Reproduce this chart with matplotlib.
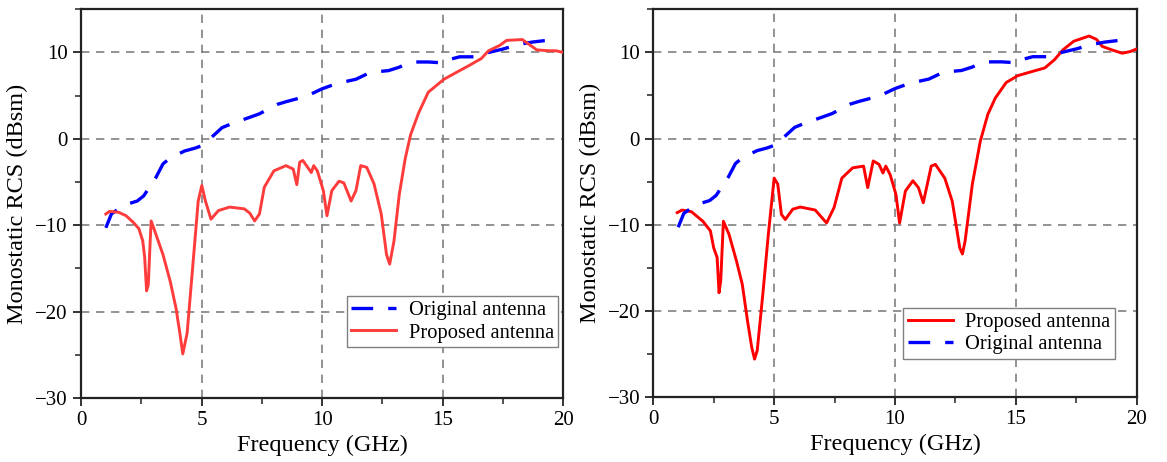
import matplotlib
matplotlib.use("Agg")
import matplotlib.pyplot as plt
from matplotlib.ticker import MultipleLocator

# ---------------- data ----------------
orig_f = [1.03, 1.26, 1.6, 1.87, 2.33, 2.6, 2.79, 3.1, 3.4, 3.7, 4.0, 4.3, 4.7, 5.0, 5.2, 5.4,
          5.85, 6.2, 6.6, 7.0, 7.4, 7.8, 8.15, 8.5, 8.9, 9.4, 10.0, 10.4, 10.75, 11.4, 12.0,
          12.75, 13.2, 13.5, 13.8, 14.4, 15.0, 15.3, 15.7, 16.3, 16.9, 17.5, 18.1, 18.7,
          19.3, 19.75]
orig_rcs = [-10.3, -8.7, -8.0, -7.6, -7.2, -6.6, -5.8, -4.5, -2.9, -2.2, -1.8, -1.4, -1.1, -0.8,
            -0.4, 0.15, 1.3, 1.7, 2.1, 2.5, 2.9, 3.5, 4.0, 4.3, 4.6, 5.0, 5.8, 6.2, 6.5, 6.9,
            7.7, 7.9, 8.3, 8.7, 8.9, 8.9, 8.8, 9.2, 9.5, 9.5, 10.0, 10.4, 10.9, 11.2, 11.4, 11.8]

prop1_f = [1.03, 1.18, 1.56, 1.87, 2.18, 2.4, 2.56, 2.64, 2.72, 2.79, 2.87, 2.91, 3.1, 3.4, 3.7,
           3.94, 4.1, 4.22, 4.4, 4.63, 4.86, 5.01, 5.16, 5.39, 5.7, 6.16, 6.77, 7.0, 7.2, 7.4,
           7.6, 8.0, 8.5, 8.8, 8.95, 9.07, 9.2, 9.55, 9.65, 9.8, 10.05, 10.2, 10.4, 10.7, 10.9,
           11.2, 11.4, 11.6, 11.85, 12.15, 12.45, 12.67, 12.8, 12.98, 13.2, 13.45, 13.67, 14.0,
           14.4, 15.05, 15.7, 16.1, 16.6, 16.9, 17.35, 17.65, 18.3, 18.6, 18.9, 19.4, 19.7, 20.0]
prop1_rcs = [-8.7, -8.4, -8.5, -8.9, -9.7, -10.4, -11.8, -13.7, -17.6, -16.9, -11.8, -9.5, -11.0,
             -13.4, -16.5, -19.6, -22.5, -24.9, -22.5, -14.9, -7.2, -5.4, -7.2, -9.3, -8.3, -7.9,
             -8.1, -8.6, -9.5, -8.7, -5.6, -3.7, -3.1, -3.5, -5.3, -2.7, -2.5, -3.9, -3.1, -3.7,
             -6.0, -8.9, -6.0, -4.9, -5.1, -7.2, -6.0, -3.1, -3.3, -5.2, -8.7, -13.4, -14.5,
             -11.8, -6.4, -2.2, 0.5, 3.0, 5.4, 6.9, 7.9, 8.5, 9.3, 10.2, 10.8, 11.4, 11.5, 10.9,
             10.3, 10.2, 10.2, 10.0]

prop2_f = [0.99, 1.19, 1.58, 2.05, 2.36, 2.5, 2.64, 2.72, 2.79, 2.9, 3.13, 3.44, 3.68, 3.9, 4.07,
           4.19, 4.3, 4.53, 4.76, 5.0, 5.15, 5.3, 5.46, 5.77, 6.08, 6.7, 7.17, 7.48, 7.8, 8.25,
           8.7, 8.87, 9.1, 9.34, 9.5, 9.62, 9.8, 10.04, 10.19, 10.43, 10.74, 10.97, 11.17, 11.5,
           11.67, 12.06, 12.37, 12.68, 12.79, 12.9, 13.2, 13.53, 13.84, 14.15, 14.6, 15.08,
           15.7, 16.2, 16.6, 16.95, 17.4, 18.03, 18.34, 18.57, 18.96, 19.4, 19.74, 20.0]
prop2_rcs = [-8.6, -8.3, -8.5, -9.6, -10.7, -12.7, -13.8, -17.9, -16.5, -9.6, -11.1, -14.2, -16.9,
             -21.2, -24.2, -25.6, -24.6, -18.1, -11.1, -4.6, -5.3, -8.8, -9.4, -8.2, -7.95, -8.3,
             -9.8, -8.0, -4.6, -3.4, -3.2, -5.7, -2.6, -3.0, -4.0, -3.2, -4.2, -6.5, -9.8, -6.1,
             -4.9, -5.7, -7.45, -3.2, -3.0, -4.6, -7.3, -12.7, -13.4, -11.9, -5.3, -0.3, 2.8, 4.7,
             6.5, 7.3, 7.8, 8.2, 9.15, 10.3, 11.3, 11.9, 11.5, 10.7, 10.3, 9.9, 10.1, 10.4]

x_ticks = [0, 5, 10, 15, 20]
y_ticks = [-30, -20, -10, 0, 10]
xlabel = "Frequency (GHz)"
ylabel = "Monostatic RCS (dBsm)"
orig_label = "Original antenna"
prop_label = "Proposed antenna"

# ---------------- style ----------------
plt.rcParams['font.family'] = ['Liberation Serif', 'DejaVu Serif']
plt.rcParams['mathtext.fontset'] = 'stix'

fig = plt.figure(figsize=(11.67, 4.62), dpi=100)
W, H = 1167.0, 462.0
ax1 = fig.add_axes([81 / W, 1 - 398 / H, (563.3 - 81) / W, (398 - 9.3) / H])
ax2 = fig.add_axes([653.3 / W, 1 - 397 / H, (1136.7 - 653.3) / W, (397 - 9.3) / H])

blue = '#0000FF'
dash = (6.5, 4.5)


def style(ax):
    ax.set_xlim(0, 20)
    ax.set_ylim(-30, 15)
    ax.set_xticks(x_ticks)
    ax.set_yticks(y_ticks)
    ax.xaxis.set_minor_locator(MultipleLocator(2.5))
    ax.yaxis.set_minor_locator(MultipleLocator(5))
    ax.tick_params(which='major', direction='out', length=6, width=1.3, labelsize=15,
                   colors='#222222', labelcolor='black', top=False, right=False)
    ax.tick_params(which='minor', direction='out', length=4, width=1.1, colors='#222222',
                   top=False, right=False)
    for s in ax.spines.values():
        s.set_linewidth(1.6)
        s.set_color('#222222')
    ax.grid(True, which='major', color='#808080', linestyle=(0, (5, 4)), linewidth=1.2)
    ax.set_xlabel(xlabel, fontsize=17.5, labelpad=3)
    ax.set_ylabel(ylabel, fontsize=17.5, labelpad=5)


# left panel
style(ax1)
ax1.plot(orig_f, orig_rcs, color=blue, lw=2.4, linestyle=(0, dash), label=orig_label, zorder=3)
ax1.plot(prop1_f, prop1_rcs, color='#FF3C3C', lw=2.1, label=prop_label, zorder=3)
leg1 = ax1.legend(loc='lower right', bbox_to_anchor=(0.99, 0.131), fontsize=14.8,
                  frameon=True, fancybox=False, edgecolor='#808080', framealpha=1,
                  borderpad=0.22, handlelength=2.2, handletextpad=0.6, labelspacing=0.15,
                  borderaxespad=0)
leg1.get_frame().set_linewidth(1.0)

# right panel
style(ax2)
ax2.plot(prop2_f, prop2_rcs, color='#FF0000', lw=2.1, label=prop_label, zorder=3)
ax2.plot(orig_f, orig_rcs, color=blue, lw=2.4, linestyle=(0, dash), label=orig_label, zorder=3)
leg2 = ax2.legend(loc='lower right', bbox_to_anchor=(0.955, 0.098), fontsize=14.8,
                  frameon=True, fancybox=False, edgecolor='#808080', framealpha=1,
                  borderpad=0.22, handlelength=2.2, handletextpad=0.6, labelspacing=0.15,
                  borderaxespad=0)
leg2.get_frame().set_linewidth(1.0)

fig.savefig('out.png', dpi=100)
